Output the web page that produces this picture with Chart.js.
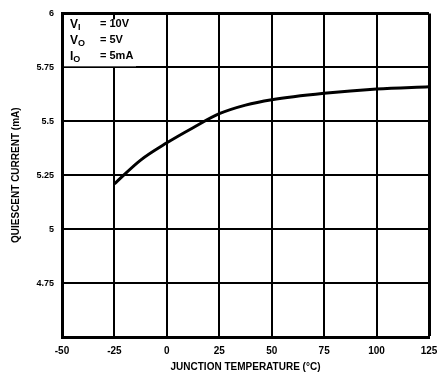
<!DOCTYPE html>
<html>
<head>
<meta charset="utf-8">
<script src="https://cdn.jsdelivr.net/npm/chart.js@4/dist/chart.umd.min.js"></script>
<style>
  html, body { margin: 0; padding: 0; background: #fff; }
  #wrap { width: 438px; height: 379px; }
</style>
</head>
<body>
<div id="wrap"><canvas id="chart" width="438" height="379"></canvas></div>
<script>
// values
var temps = [-25, -12.5, 0, 12.5, 25, 37.5, 50, 75, 100, 125];
var current = [5.21, 5.32, 5.40, 5.47, 5.535, 5.575, 5.60, 5.63, 5.65, 5.66];
var xTicks = [-50, -25, 0, 25, 50, 75, 100, 125];
var yTicks = [4.75, 5, 5.25, 5.5, 5.75, 6];
var conditions = [["V", "I", "= 10V"], ["V", "O", "= 5V"], ["I", "O", "= 5mA"]];

var font = "'Liberation Sans', Arial, sans-serif";

// white box behind the test conditions, then the text
var notes = {
	id: 'notes',
	afterDraw: function(chart) {
		var ctx = chart.ctx;
		var a = chart.chartArea;
		var yb = chart.scales.y.getPixelForValue(5.75);
		ctx.save();
		ctx.fillStyle = '#fff';
		ctx.fillRect(a.left + 2, a.top + 6, 72, yb - a.top - 7);
		ctx.fillStyle = '#000';
		ctx.textBaseline = 'middle';
		conditions.forEach(function(c, i) {
			var y = a.top + 11 + i * 16;
			ctx.font = 'bold 12px ' + font;
			ctx.fillText(c[0], a.left + 8, y);
			var w = ctx.measureText(c[0]).width;
			ctx.font = 'bold 9px ' + font;
			ctx.fillText(c[1], a.left + 8 + w, y + 3);
			ctx.font = 'bold 11px ' + font;
			ctx.fillText(c[2], a.left + 38, y);
		});
		ctx.restore();
	}
};

var config = {
	type: 'line',
	data: {
		datasets: [{
			data: temps.map(function(t, i) { return {x: t, y: current[i]}; }),
			borderColor: '#000',
			borderWidth: 3,
			pointRadius: 0,
			tension: 0.4,
			cubicInterpolationMode: 'monotone',
			fill: false
		}]
	},
	options: {
		responsive: false,
		animation: false,
		layout: { padding: { top: 11, right: 0, left: 0, bottom: 6 } },
		plugins: { legend: { display: false }, tooltip: { enabled: false } },
		scales: {
			x: {
				type: 'linear',
				min: -50, max: 125,
				afterBuildTicks: function(s) { s.ticks = xTicks.map(function(v) { return {value: v}; }); },
				afterFit: function(s) { s.height = 36; s.paddingLeft = 0; s.paddingRight = 9; },
				grid: {
					color: '#000',
					lineWidth: function(c) { return c.tick && c.tick.value === 125 ? 3 : 2; },
					drawTicks: false
				},
				border: { color: '#000', width: 3 },
				ticks: {
					color: '#000', padding: 8,
					font: { family: font, size: 10, weight: 'bold' },
					callback: function(v) { return String(v); }
				},
				title: {
					display: true, text: 'JUNCTION TEMPERATURE (\u00B0C)', color: '#000',
					font: { family: font, size: 10, weight: 'bold' },
					padding: { top: 2, bottom: 0 }
				}
			},
			y: {
				min: 4.5, max: 6,
				afterBuildTicks: function(s) { s.ticks = [4.5].concat(yTicks).map(function(v) { return {value: v}; }); },
				afterFit: function(s) { s.width = 62; },
				grid: {
					color: '#000',
					lineWidth: function(c) {
						if (!c.tick) return 2;
						if (c.tick.value === 4.5) return 0;
						return c.tick.value === 6 ? 3 : 2;
					},
					drawTicks: false
				},
				border: { color: '#000', width: 3 },
				ticks: {
					color: '#000', padding: 8,
					font: { family: font, size: 9, weight: 'bold' },
					callback: function(v) { return v === 4.5 ? '' : String(v); }
				},
				title: {
					display: true, text: 'QUIESCENT CURRENT (mA)', color: '#000',
					font: { family: font, size: 10, weight: 'bold' },
					padding: { top: 10, bottom: 4 }
				}
			}
		}
	},
	plugins: [notes]
};

window.onload = function() {
	window.myChart = new Chart(document.getElementById('chart'), config);
};
</script>
</body>
</html>
